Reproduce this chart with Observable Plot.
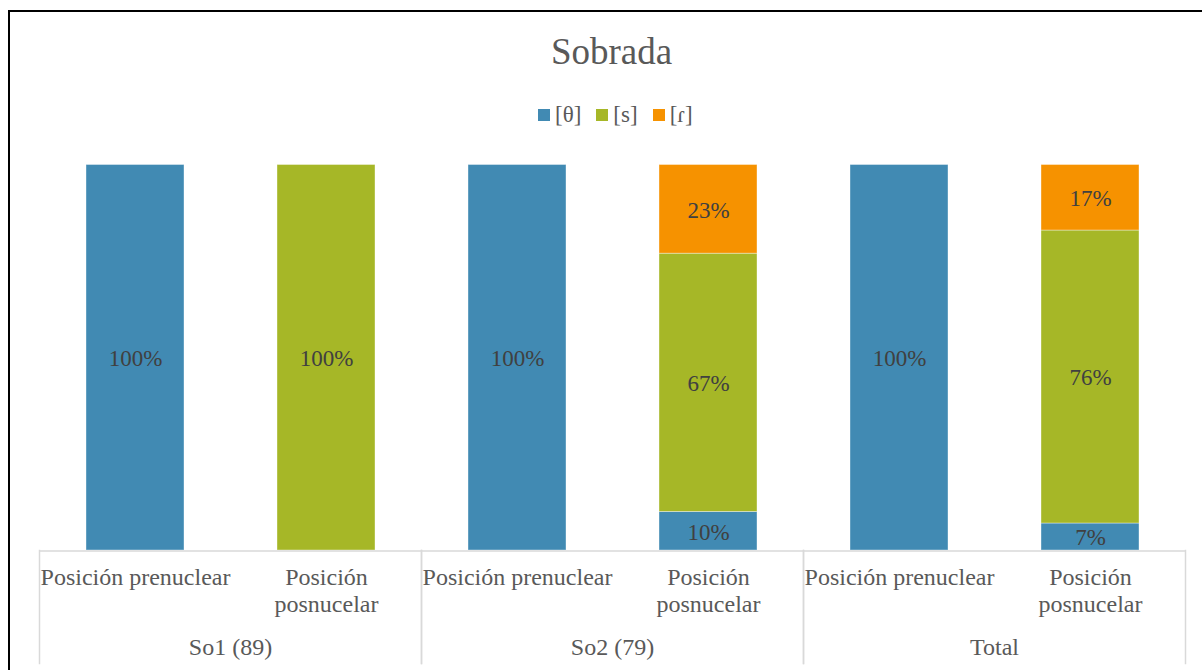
<!DOCTYPE html>
<html><head><meta charset="utf-8">
<script src="https://cdn.jsdelivr.net/npm/d3@7"></script>
<script src="https://cdn.jsdelivr.net/npm/@observablehq/plot@0.6"></script>
<style>
body{margin:0;background:#fff;width:1202px;height:670px;overflow:hidden;position:relative;font-family:'Liberation Serif',serif;}
#frame{position:absolute;left:8px;top:10px;width:1200px;height:670px;border-left:2px solid #000;border-top:2px solid #000;box-sizing:border-box;pointer-events:none}
#title{position:absolute;left:38px;width:1147px;top:33px;text-align:center;font-family:'Liberation Serif',serif;font-size:37px;line-height:37px;color:#595959}
#legend{position:absolute;left:538px;top:103px;display:flex;align-items:center;font-family:'Liberation Serif',serif;font-size:23px;line-height:23px;color:#595959;white-space:nowrap}
#legend .sw{width:12px;height:12px;margin-right:5px;display:inline-block}
#legend .lb{margin-right:15px}
#chart{position:absolute;left:0;top:140px}
</style>
</head><body>
<div id="frame"></div>
<div id="title">Sobrada</div>
<div id="legend"></div>
<div id="chart"></div>
<script>
const groups = ["So1 (89)", "So2 (79)", "Total"];
const positions = ["Posición prenuclear", "Posición posnucelar"];
const positionLabels = ["Posición prenuclear", "Posición\nposnucelar"];
const sounds = ["[θ]", "[s]", "[ɾ]"];
const colors = ["#418AB3", "#A6B727", "#F69200"];
// bar order: So1 pre, So1 pos, So2 pre, So2 pos, Total pre, Total pos
const theta = [1.00, 0.00, 1.00, 0.10, 1.00, 0.07];
const sVals = [0.00, 1.00, 0.00, 0.67, 0.00, 0.76];
const rVals = [0.00, 0.00, 0.00, 0.23, 0.00, 0.17];

const series = [theta, sVals, rVals];
const data = [];
for (let i = 0; i < 6; i++) {
  sounds.forEach((snd, k) => {
    data.push({group: groups[Math.floor(i / 2)], pos: positions[i % 2], sound: snd, value: series[k][i]});
  });
}
const ticks = [];
groups.forEach(g => positions.forEach((p, j) => ticks.push({group: g, pos: p, label: positionLabels[j]})));
const groupRows = groups.map(g => ({group: g}));

// legend
const legend = document.getElementById("legend");
sounds.forEach((snd, k) => {
  const sw = document.createElement("span"); sw.className = "sw"; sw.style.background = colors[k];
  const lb = document.createElement("span"); lb.className = "lb"; lb.textContent = snd;
  legend.append(sw, lb);
});

const font = "'Liberation Serif', serif";
const fmt = d3.format(".0%");
const chart = Plot.plot({
  width: 1202,
  height: 530,
  marginTop: 24.5,
  marginBottom: 120,
  marginLeft: 38,
  marginRight: 17,
  style: {fontFamily: font, background: "transparent", overflow: "visible"},
  fx: {domain: groups, padding: 0, axis: null},
  x: {domain: positions, paddingInner: 0.487, paddingOuter: 0.2435, axis: null},
  y: {domain: [0, 1], axis: null},
  color: {domain: sounds, range: colors},
  marks: [
    Plot.barY(data, {fx: "group", x: "pos", y: "value", fill: "sound", stroke: "#fff", strokeOpacity: 0.5, strokeWidth: 0.75}),
    Plot.text(data, Plot.stackY({
      filter: d => d.value > 0,
      fx: "group", x: "pos", y: "value",
      text: d => fmt(d.value),
      fill: "#404040", fontSize: 23, fontFamily: font, dy: 1
    })),
    Plot.ruleY([0], {stroke: "#d9d9d9", strokeWidth: 1.5, dy: 0.5}),
    Plot.frame({anchor: "left", stroke: "#d9d9d9", strokeWidth: 1.5, insetTop: 385.5, insetBottom: -113}),
    Plot.frame({anchor: "right", stroke: "#d9d9d9", strokeWidth: 1.5, insetTop: 385.5, insetBottom: -113}),
    Plot.text(ticks, {
      fx: "group", x: "pos", text: "label", frameAnchor: "bottom", lineAnchor: "top",
      lineHeight: 1.125, dy: 15.5, fontSize: 24, fontFamily: font, fill: "#595959"
    }),
    Plot.text(groupRows, {
      fx: "group", text: "group", frameAnchor: "bottom", lineAnchor: "top",
      dy: 87.5, fontSize: 24, fontFamily: font, fill: "#595959"
    })
  ]
});
document.getElementById("chart").append(chart);
</script>
</body></html>
